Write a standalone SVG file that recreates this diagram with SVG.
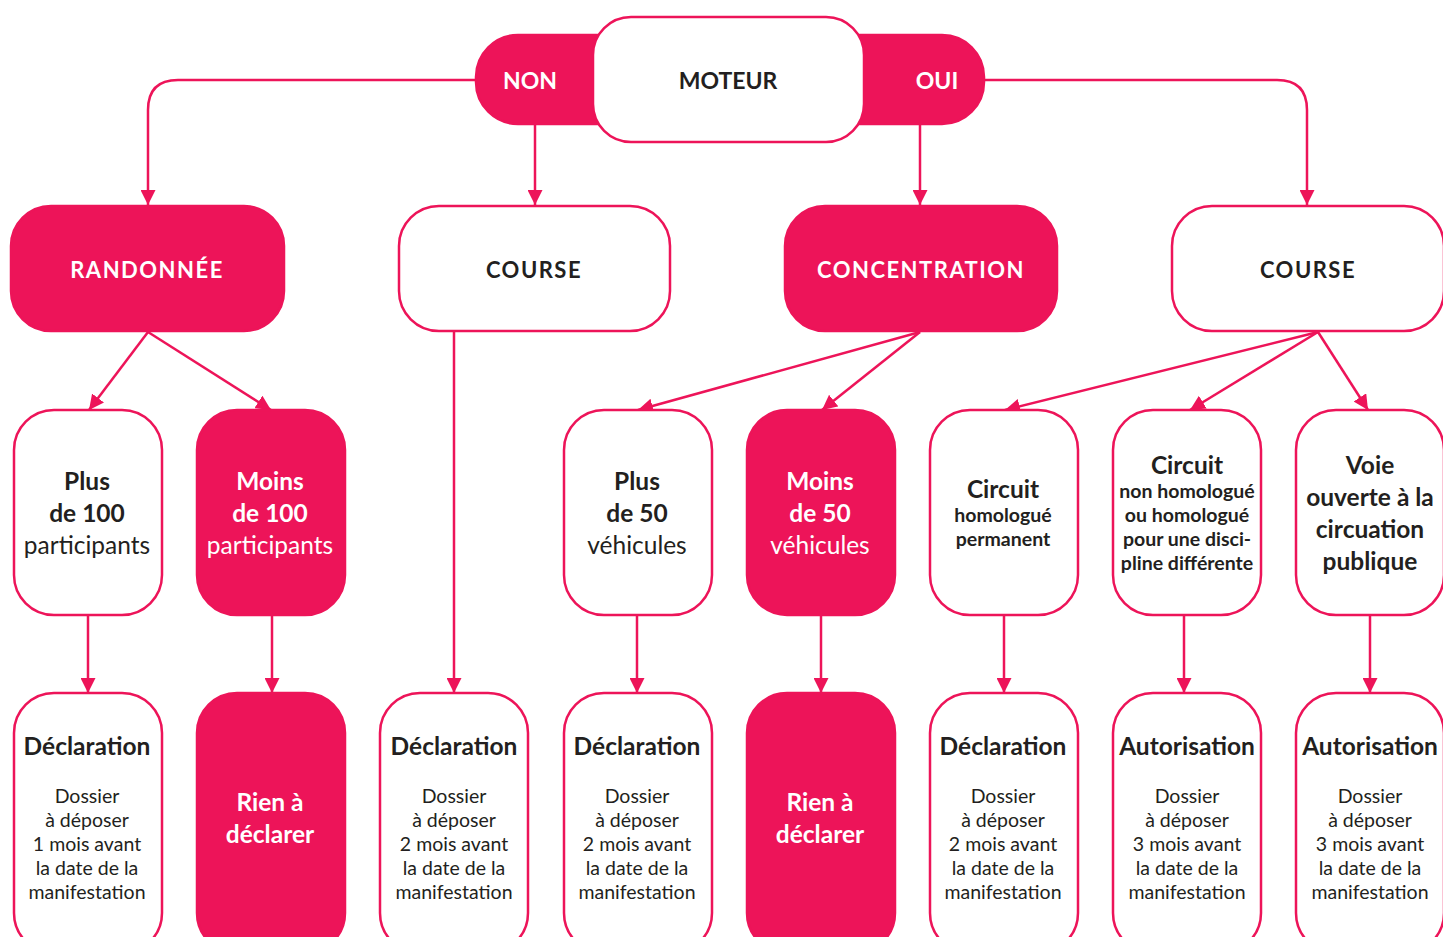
<svg xmlns="http://www.w3.org/2000/svg" width="1443" height="937" viewBox="0 0 1443 937">
<style>
.p{fill:#ED1459;stroke:#ED1459;stroke-width:2.5}
.w{fill:#fff;stroke:#ED1459;stroke-width:2.5}
text{font-family:Lato,"Open Sans","Liberation Sans",sans-serif;text-anchor:middle;fill:#231f20}
.b{font-weight:bold}
.wt{fill:#fff}
.h{font-size:22px;font-weight:bold;letter-spacing:1.5px}
.m{font-size:23px;font-weight:bold}
.t{font-size:24.5px}
.s{font-size:19.5px;font-weight:bold}
.d{font-size:19.5px}
.c{fill:none;stroke:#ED1459;stroke-width:2.5}
</style>
<defs>
<marker id="a" viewBox="0 0 10 10" refX="10" refY="5" markerWidth="6" markerHeight="6" markerUnits="strokeWidth" orient="auto"><path d="M0,0 L10,5 L0,10 z" fill="#ED1459"/></marker>
</defs>
<rect width="1443" height="937" fill="#fff"/>
<g id="connectors">
<path class="c" d="M475,80 H178 Q148,80 148,110 V205" marker-end="url(#a)"/>
<path class="c" d="M985,80 H1277 Q1307,80 1307,110 V205" marker-end="url(#a)"/>
<path class="c" d="M535,125 V205" marker-end="url(#a)"/>
<path class="c" d="M920,125 V205" marker-end="url(#a)"/>
<path class="c" d="M148,332 L89,410" marker-end="url(#a)"/>
<path class="c" d="M148,332 L271,410" marker-end="url(#a)"/>
<path class="c" d="M454,332 V693" marker-end="url(#a)"/>
<path class="c" d="M920,332 L638,410" marker-end="url(#a)"/>
<path class="c" d="M920,332 L822,410" marker-end="url(#a)"/>
<path class="c" d="M1318,332 L1005,410" marker-end="url(#a)"/>
<path class="c" d="M1318,332 L1190,410" marker-end="url(#a)"/>
<path class="c" d="M1318,332 L1368,410" marker-end="url(#a)"/>
<path class="c" d="M88,615 V693" marker-end="url(#a)"/>
<path class="c" d="M272,615 V693" marker-end="url(#a)"/>
<path class="c" d="M637,615 V693" marker-end="url(#a)"/>
<path class="c" d="M821,615 V693" marker-end="url(#a)"/>
<path class="c" d="M1004,615 V693" marker-end="url(#a)"/>
<path class="c" d="M1184,615 V693" marker-end="url(#a)"/>
<path class="c" d="M1370,615 V693" marker-end="url(#a)"/>
</g>
<g id="oui-non">
<rect class="p" x="476" y="35" width="508" height="89" rx="42"/>
<text class="m wt" x="530" y="89">NON</text>
<text class="m wt" x="937" y="89">OUI</text>
</g>
<g id="moteur">
<rect class="w" x="593" y="17" width="271" height="125" rx="38"/>
<text class="m" x="728" y="89">MOTEUR</text>
</g>
<g id="randonnee">
<rect class="p" x="11" y="206" width="273" height="125" rx="40"/>
<text class="h wt" x="147" y="278">RANDONNÉE</text>
</g>
<g id="course-non">
<rect class="w" x="399" y="206" width="271" height="125" rx="40"/>
<text class="h" x="534" y="278">COURSE</text>
</g>
<g id="concentration">
<rect class="p" x="785" y="206" width="272" height="125" rx="40"/>
<text class="h wt" x="921" y="278">CONCENTRATION</text>
</g>
<g id="course-oui">
<rect class="w" x="1172" y="206" width="272" height="125" rx="40"/>
<text class="h" x="1308" y="278">COURSE</text>
</g>
<g id="plus100">
<rect class="w" x="14" y="410" width="148" height="205" rx="40"/>
<text class="t b" x="87" y="490">Plus</text>
<text class="t b" x="87" y="522">de 100</text>
<text class="t" x="87" y="554">participants</text>
</g>
<g id="moins100">
<rect class="p" x="197" y="410" width="148" height="205" rx="40"/>
<text class="t b wt" x="270" y="490">Moins</text>
<text class="t b wt" x="270" y="522">de 100</text>
<text class="t wt" x="270" y="554">participants</text>
</g>
<g id="plus50">
<rect class="w" x="564" y="410" width="148" height="205" rx="40"/>
<text class="t b" x="637" y="490">Plus</text>
<text class="t b" x="637" y="522">de 50</text>
<text class="t" x="637" y="554">véhicules</text>
</g>
<g id="moins50">
<rect class="p" x="747" y="410" width="148" height="205" rx="40"/>
<text class="t b wt" x="820" y="490">Moins</text>
<text class="t b wt" x="820" y="522">de 50</text>
<text class="t wt" x="820" y="554">véhicules</text>
</g>
<g id="circuit-homologue">
<rect class="w" x="930" y="410" width="148" height="205" rx="40"/>
<text class="t b" x="1003" y="498">Circuit</text>
<text class="s" x="1003" y="522">homologué</text>
<text class="s" x="1003" y="546">permanent</text>
</g>
<g id="circuit-non-homologue">
<rect class="w" x="1113" y="410" width="148" height="205" rx="40"/>
<text class="t b" x="1187" y="474">Circuit</text>
<text class="s" x="1187" y="498">non homologué</text>
<text class="s" x="1187" y="522">ou homologué</text>
<text class="s" x="1187" y="546">pour une disci-</text>
<text class="s" x="1187" y="570">pline différente</text>
</g>
<g id="voie">
<rect class="w" x="1296" y="410" width="148" height="205" rx="40"/>
<text class="t b" x="1370" y="474">Voie</text>
<text class="t b" x="1370" y="506">ouverte à la</text>
<text class="t b" x="1370" y="538">circuation</text>
<text class="t b" x="1370" y="570">publique</text>
</g>
<g id="decl1">
<rect class="w" x="14" y="693" width="148" height="260" rx="40"/>
<text class="t b" x="87" y="755">Déclaration</text>
<text class="d" x="87" y="803">Dossier</text>
<text class="d" x="87" y="827">à déposer</text>
<text class="d" x="87" y="851">1 mois avant</text>
<text class="d" x="87" y="875">la date de la</text>
<text class="d" x="87" y="899">manifestation</text>
</g>
<g id="rien1">
<rect class="p" x="197" y="693" width="148" height="260" rx="40"/>
<text class="t b wt" x="270" y="811">Rien à</text>
<text class="t b wt" x="270" y="843">déclarer</text>
</g>
<g id="decl2">
<rect class="w" x="380" y="693" width="148" height="260" rx="40"/>
<text class="t b" x="454" y="755">Déclaration</text>
<text class="d" x="454" y="803">Dossier</text>
<text class="d" x="454" y="827">à déposer</text>
<text class="d" x="454" y="851">2 mois avant</text>
<text class="d" x="454" y="875">la date de la</text>
<text class="d" x="454" y="899">manifestation</text>
</g>
<g id="decl3">
<rect class="w" x="564" y="693" width="148" height="260" rx="40"/>
<text class="t b" x="637" y="755">Déclaration</text>
<text class="d" x="637" y="803">Dossier</text>
<text class="d" x="637" y="827">à déposer</text>
<text class="d" x="637" y="851">2 mois avant</text>
<text class="d" x="637" y="875">la date de la</text>
<text class="d" x="637" y="899">manifestation</text>
</g>
<g id="rien2">
<rect class="p" x="747" y="693" width="148" height="260" rx="40"/>
<text class="t b wt" x="820" y="811">Rien à</text>
<text class="t b wt" x="820" y="843">déclarer</text>
</g>
<g id="decl4">
<rect class="w" x="930" y="693" width="148" height="260" rx="40"/>
<text class="t b" x="1003" y="755">Déclaration</text>
<text class="d" x="1003" y="803">Dossier</text>
<text class="d" x="1003" y="827">à déposer</text>
<text class="d" x="1003" y="851">2 mois avant</text>
<text class="d" x="1003" y="875">la date de la</text>
<text class="d" x="1003" y="899">manifestation</text>
</g>
<g id="auto1">
<rect class="w" x="1113" y="693" width="148" height="260" rx="40"/>
<text class="t b" x="1187" y="755">Autorisation</text>
<text class="d" x="1187" y="803">Dossier</text>
<text class="d" x="1187" y="827">à déposer</text>
<text class="d" x="1187" y="851">3 mois avant</text>
<text class="d" x="1187" y="875">la date de la</text>
<text class="d" x="1187" y="899">manifestation</text>
</g>
<g id="auto2">
<rect class="w" x="1296" y="693" width="148" height="260" rx="40"/>
<text class="t b" x="1370" y="755">Autorisation</text>
<text class="d" x="1370" y="803">Dossier</text>
<text class="d" x="1370" y="827">à déposer</text>
<text class="d" x="1370" y="851">3 mois avant</text>
<text class="d" x="1370" y="875">la date de la</text>
<text class="d" x="1370" y="899">manifestation</text>
</g>
</svg>
